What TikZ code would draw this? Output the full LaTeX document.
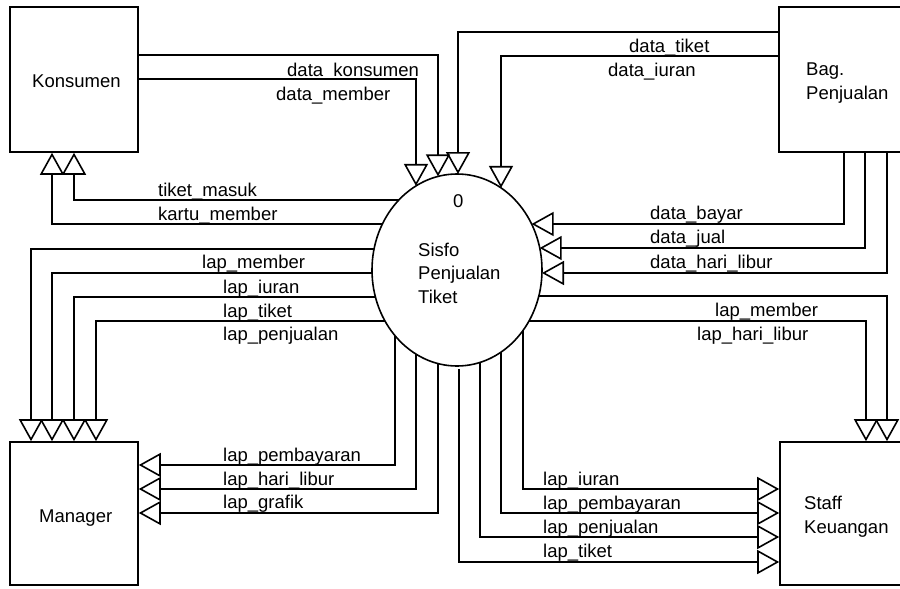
\documentclass[tikz,border=0pt]{standalone}
\usepackage{fontspec}
\setmainfont{Liberation Sans}
\usetikzlibrary{arrows.meta,shapes.geometric}
\tikzset{
  lw/.style={line width=1.6pt},
  flow/.style={lw, -{Triangle[open,length=22pt,width=24pt,line width=1.6pt]}},
  box/.style={draw, lw, rectangle, inner sep=0pt},
  lbl/.style={anchor=base west, inner sep=0pt},
}
\begin{document}
\begin{tikzpicture}[x=1pt,y=-1pt,font=\fontsize{18.5}{22}\selectfont]
\clip (0,0) rectangle (900,589);
% entities
\node[box, minimum width=128pt, minimum height=145pt] (kons) at (74,79.5) {};
\node[box, minimum width=131pt, minimum height=145pt] (bag) at (844.5,79.5) {};
\node[box, minimum width=128pt, minimum height=143pt] (mgr) at (74,513.5) {};
\node[box, minimum width=130pt, minimum height=143pt] (stf) at (845,513.5) {};
\node[lbl] (konsT) at (32,87) {Konsumen};
\node[lbl] (bagT1) at (806,75) {Bag.};
\node[lbl] (bagT2) at (806,99) {Penjualan};
\node[lbl] (mgrT) at (39,522) {Manager};
\node[lbl] (stfT1) at (804,509) {Staff};
\node[lbl] (stfT2) at (804,533) {Keuangan};
% process
\node[draw, lw, ellipse, minimum width=170pt, minimum height=192pt, inner sep=0pt] (p0) at (457,270) {};
\node[lbl] (p0n) at (453,207) {0};
\node[lbl] (p0a) at (418,256) {Sisfo};
\node[lbl] (p0b) at (418,279) {Penjualan};
\node[lbl] (p0c) at (418,303) {Tiket};
% Konsumen flows
\draw[flow] (kons.east |- 0,55) -| (438,176.4);
\node[lbl] at (287,76) {data\_konsumen};
\draw[flow] (kons.east |- 0,79) -| (416,185.9);
\node[lbl] at (276,100) {data\_member};
\draw[flow] (398.8,200) -| (kons.south -| 74,0);
\node[lbl] at (158,196) {tiket\_masuk};
\draw[flow] (382.4,224) -| (kons.south -| 52,0);
\node[lbl] at (158,220) {kartu\_member};
% Bag. Penjualan flows
\draw[flow] (bag.west |- 0,32) -| (458,174);
\node[lbl] at (629,52) {data\_tiket};
\draw[flow] (bag.west |- 0,56) -| (501,187.9);
\node[lbl] at (608,76) {data\_iuran};
\draw[flow] (bag.south -| 844,0) |- (531.6,224);
\node[lbl] at (650,219) {data\_bayar};
\draw[flow] (bag.south -| 865,0) |- (539.7,248);
\node[lbl] at (650,243) {data\_jual};
\draw[flow] (bag.south -| 887,0) |- (542,273);
\node[lbl] at (650,268) {data\_hari\_libur};
% Manager top flows
\draw[flow] (374.1,249) -| (mgr.north -| 31,0);
\node[lbl] at (202,268) {lap\_member};
\draw[flow] (372,273) -| (mgr.north -| 52,0);
\node[lbl] at (223,293) {lap\_iuran};
\draw[flow] (375.4,297) -| (mgr.north -| 74,0);
\node[lbl] at (223,317) {lap\_tiket};
\draw[flow] (385,321) -| (mgr.north -| 96,0);
\node[lbl] at (223,340) {lap\_penjualan};
% Manager right flows
\draw[flow] (395,335.7) |- (mgr.east |- 0,465);
\node[lbl] at (223,461) {lap\_pembayaran};
\draw[flow] (416,354.1) |- (mgr.east |- 0,489);
\node[lbl] at (223,485) {lap\_hari\_libur};
\draw[flow] (438,363.6) |- (mgr.east |- 0,513);
\node[lbl] at (223,508) {lap\_grafik};
% Staff top flows
\draw[flow] (538.8,296) -| (stf.north -| 887,0);
\node[lbl] at (715,316) {lap\_member};
\draw[flow] (529,321) -| (stf.north -| 866,0);
\node[lbl] at (697,340) {lap\_hari\_libur};
% Staff left flows
\draw[flow] (523,330.5) |- (stf.west |- 0,489);
\node[lbl] at (543,485) {lap\_iuran};
\draw[flow] (501,352.1) |- (stf.west |- 0,513);
\node[lbl] at (543,509) {lap\_pembayaran};
\draw[flow] (480,362.4) |- (stf.west |- 0,537);
\node[lbl] at (543,533) {lap\_penjualan};
\draw[flow] (459,369) |- (stf.west |- 0,562);
\node[lbl] at (543,557) {lap\_tiket};
\end{tikzpicture}
\end{document}
